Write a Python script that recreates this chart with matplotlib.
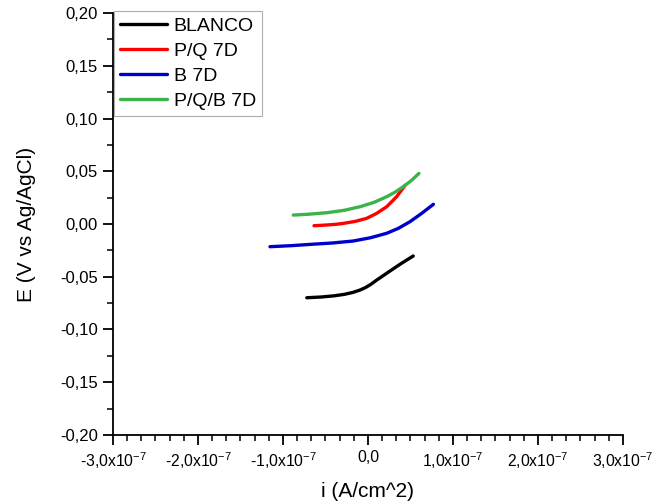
import matplotlib
matplotlib.use("Agg")
import matplotlib.pyplot as plt
from matplotlib.ticker import MultipleLocator, AutoMinorLocator, FuncFormatter

plt.rcParams['font.family'] = ['Liberation Sans', 'DejaVu Sans']

# Data (current in units of 1e-7 A/cm^2, potential in V)
blanco_i = [-0.72, -0.55, -0.40, -0.28, -0.18, -0.10, -0.03, 0.03, 0.10, 0.22, 0.38, 0.533]
blanco_e = [-0.0699, -0.0692, -0.0681, -0.0667, -0.0649, -0.0628, -0.0603, -0.0574, -0.0533, -0.0467, -0.0380, -0.0303]

pq_i = [-0.635, -0.50, -0.38, -0.29, -0.15, -0.015, 0.102, 0.22, 0.337, 0.44]
pq_e = [-0.0016, -0.0010, -0.0003, 0.0006, 0.0025, 0.0054, 0.0101, 0.0164, 0.0259, 0.0370]

b_i = [-1.153, -0.90, -0.68, -0.42, -0.173, 0.03, 0.22, 0.36, 0.494, 0.63, 0.77]
b_e = [-0.0215, -0.0205, -0.0193, -0.0180, -0.0161, -0.0130, -0.0088, -0.0040, 0.0022, 0.0100, 0.0187]

pqb_i = [-0.879, -0.70, -0.486, -0.28, -0.094, 0.07, 0.22, 0.32, 0.416, 0.51, 0.60]
pqb_e = [0.0085, 0.0093, 0.0107, 0.0130, 0.0164, 0.0205, 0.0259, 0.0303, 0.0354, 0.0412, 0.0480]

series = [
    ("BLANCO", blanco_i, blanco_e, "black"),
    ("P/Q 7D", pq_i, pq_e, "red"),
    ("B 7D", b_i, b_e, "#0000cc"),
    ("P/Q/B 7D", pqb_i, pqb_e, "#3cb24a"),
]

fig = plt.figure(figsize=(6.53, 5.04), dpi=100)
ax = fig.add_axes([0.173, 0.137, 0.781, 0.837])

for name, xs, ys, c in series:
    ax.plot([x * 1e-7 for x in xs], ys, color=c, lw=2.4, label=name,
            solid_joinstyle="round", solid_capstyle="round")

ax.set_xlim(-3e-7, 3e-7)
ax.set_ylim(-0.20, 0.20)

ax.xaxis.set_major_locator(MultipleLocator(1e-7))
ax.xaxis.set_minor_locator(AutoMinorLocator(6))
ax.yaxis.set_major_locator(MultipleLocator(0.05))
ax.yaxis.set_minor_locator(AutoMinorLocator(2))

def xfmt(v, pos):
    m = round(v / 1e-7, 6)
    if abs(m) < 1e-9:
        return "0,0"
    s = ("%.1f" % m).replace(".", ",")
    return r"%s$\mathregular{x10^{-7}}$" % s

def yfmt(v, pos):
    return ("%.2f" % v).replace(".", ",").replace("-0,00", "0,00")

ax.xaxis.set_major_formatter(FuncFormatter(xfmt))
ax.yaxis.set_major_formatter(FuncFormatter(yfmt))

for s in ["top", "right"]:
    ax.spines[s].set_visible(False)
for s in ["left", "bottom"]:
    ax.spines[s].set_linewidth(1.3)

ax.tick_params(which="major", direction="out", length=7, width=1.3, labelsize=12, pad=4)
ax.tick_params(axis="x", which="major", labelsize=11.3)
ax.tick_params(which="minor", direction="out", length=4, width=1.1)

ax.set_xlabel("i (A/cm^2)", fontsize=15, labelpad=8)
ax.set_ylabel("E (V vs Ag/AgCl)", fontsize=15, labelpad=17)

leg = ax.legend(loc="upper left", bbox_to_anchor=(0.003, 1.004), fontsize=14,
                frameon=True, fancybox=False, handlelength=2.4,
                handletextpad=0.35, labelspacing=0.38, borderpad=0.3,
                borderaxespad=0.0)
leg.get_frame().set_edgecolor("#999999")
leg.get_frame().set_linewidth(0.8)

fig.savefig("out.png", dpi=100)
